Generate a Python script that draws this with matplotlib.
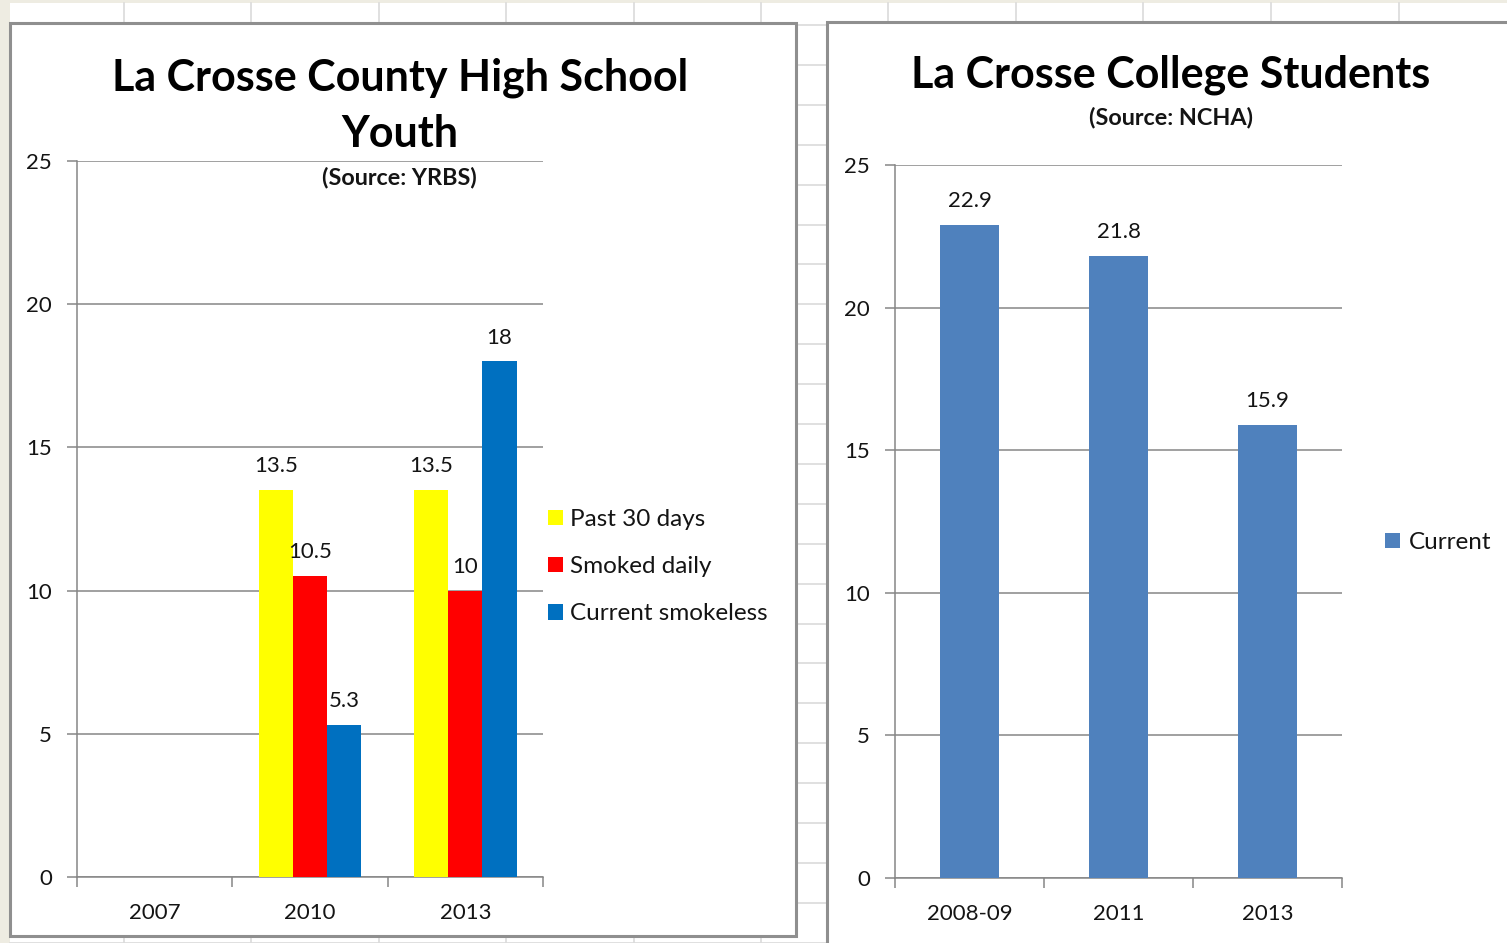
import numpy as np
import matplotlib
matplotlib.use("Agg")
import matplotlib.pyplot as plt
from matplotlib.patches import Rectangle

plt.rcParams['font.family'] = ['Lato', 'DejaVu Sans']

# ---------------- data ----------------
hs_years = ["2007", "2010", "2013"]
hs_series = ["Past 30 days", "Smoked daily", "Current smokeless"]
hs_past30 = [np.nan, 13.5, 13.5]
hs_daily = [np.nan, 10.5, 10]
hs_smokeless = [np.nan, 5.3, 18]
hs_colors = ["#FFFF00", "#FF0000", "#0070C0"]

col_years = ["2008-09", "2011", "2013"]
col_series = "Current"
col_current = [22.9, 21.8, 15.9]
col_color = "#4F81BD"

yticks = [0, 5, 10, 15, 20, 25]

W, H = 1507, 943
fig = plt.figure(figsize=(W / 100, H / 100), dpi=100)

# ---------------- spreadsheet background ----------------
bg = fig.add_axes([0, 0, 1, 1])
bg.set_xlim(0, W)
bg.set_ylim(H, 0)
bg.axis('off')
bg.add_patch(Rectangle((0, 0), W, H, facecolor="#EEECE2", edgecolor="none", zorder=0))
bg.add_patch(Rectangle((10, 3), W, H, facecolor="white", edgecolor="none", zorder=0.5))
gridc = "#DADADA"
for x in [124, 251, 379, 506, 634, 761, 888, 1016, 1143, 1271, 1399]:
    bg.plot([x, x], [3, H], color=gridc, lw=1.2, zorder=1)
for y in np.arange(25, H, 39.9):
    bg.plot([10, W], [y, y], color=gridc, lw=1.2, zorder=1)
# chart panels
bg.add_patch(Rectangle((10, 23), 786, 913, facecolor="white", edgecolor="#8F8F8F", lw=2.2, zorder=5))
bg.add_patch(Rectangle((827, 22), 700, 940, facecolor="white", edgecolor="#8F8F8F", lw=2.2, zorder=5))

axc = "#868686"
txtc = "#141414"
fs = 16


def px_axes(x0, x1, ytop, ybot):
    a = fig.add_axes([x0 / W, 1 - ybot / H, (x1 - x0) / W, (ybot - ytop) / H])
    a.patch.set_alpha(0)
    return a


def style_axes(ax, cats):
    ax.set_xlim(-0.5, len(cats) - 0.5)
    ax.set_ylim(0, 25)
    ax.set_yticks(yticks)
    ax.yaxis.grid(True, color=axc, lw=1.1)
    ax.set_axisbelow(True)
    for s in ['top', 'right']:
        ax.spines[s].set_visible(False)
    for s in ['left', 'bottom']:
        ax.spines[s].set_color(axc)
        ax.spines[s].set_linewidth(1.1)
    ax.tick_params(axis='y', length=7, width=1.1, color=axc, pad=11,
                   labelsize=fs, labelcolor=txtc)
    ax.set_xticks(np.arange(-0.5, len(cats), 1.0))
    ax.set_xticklabels([])
    ax.set_xticks(np.arange(len(cats)), minor=True)
    ax.set_xticklabels(cats, minor=True)
    ax.tick_params(axis='x', which='major', length=7, width=1.1, color=axc)
    ax.tick_params(axis='x', which='minor', length=0, pad=19,
                   labelsize=fs, labelcolor=txtc)


# ---------------- left chart ----------------
ax1 = px_axes(77, 543, 161, 877)
style_axes(ax1, hs_years)
x = np.arange(len(hs_years))
bw = 0.22
handles = []
for i, (vals, c, name) in enumerate(zip([hs_past30, hs_daily, hs_smokeless], hs_colors, hs_series)):
    bars = ax1.bar(x + (i - 1) * bw, vals, width=bw, color=c, label=name, zorder=3)
    labels = ["" if np.isnan(v) else f"{v:g}" for v in vals]
    ax1.bar_label(bars, labels=labels, padding=10, fontsize=fs, color=txtc)
    handles.append(bars)
leg1 = ax1.legend(handles=handles, loc='upper left', bbox_to_anchor=(548 / W, 1 - 509 / H),
                  bbox_transform=fig.transFigure, frameon=False, fontsize=17.5,
                  handlelength=0.6, handleheight=0.6, handletextpad=0.3,
                  labelspacing=1.08, borderaxespad=0, borderpad=0)
for t in leg1.get_texts():
    t.set_color(txtc)

fig.text(400 / W, 1 - 78 / H, "La Crosse County High School", ha='center', va='center',
         fontsize=31, fontweight='bold', color='black')
fig.text(400 / W, 1 - 134 / H, "Youth", ha='center', va='center',
         fontsize=31, fontweight='bold', color='black')
fig.text(399 / W, 1 - 177 / H, "(Source: YRBS)", ha='center', va='center',
         fontsize=16.8, fontweight='bold', color=txtc)

# ---------------- right chart ----------------
ax2 = px_axes(895, 1342, 165, 878)
style_axes(ax2, col_years)
x2 = np.arange(len(col_years))
bars2 = ax2.bar(x2, col_current, width=0.40, color=col_color, label=col_series, zorder=3)
ax2.bar_label(bars2, labels=[f"{v:g}" for v in col_current], padding=10, fontsize=fs, color=txtc)
leg2 = ax2.legend(handles=[bars2], loc='upper left', bbox_to_anchor=(1385 / W, 1 - 532 / H),
                  bbox_transform=fig.transFigure, frameon=False, fontsize=17.5,
                  handlelength=0.6, handleheight=0.6, handletextpad=0.4,
                  borderaxespad=0, borderpad=0)
for t in leg2.get_texts():
    t.set_color(txtc)

fig.text(1171 / W, 1 - 75 / H, "La Crosse College Students", ha='center', va='center',
         fontsize=31, fontweight='bold', color='black')
fig.text(1171 / W, 1 - 117 / H, "(Source: NCHA)", ha='center', va='center',
         fontsize=16.8, fontweight='bold', color=txtc)

fig.savefig("out.png", dpi=100)
